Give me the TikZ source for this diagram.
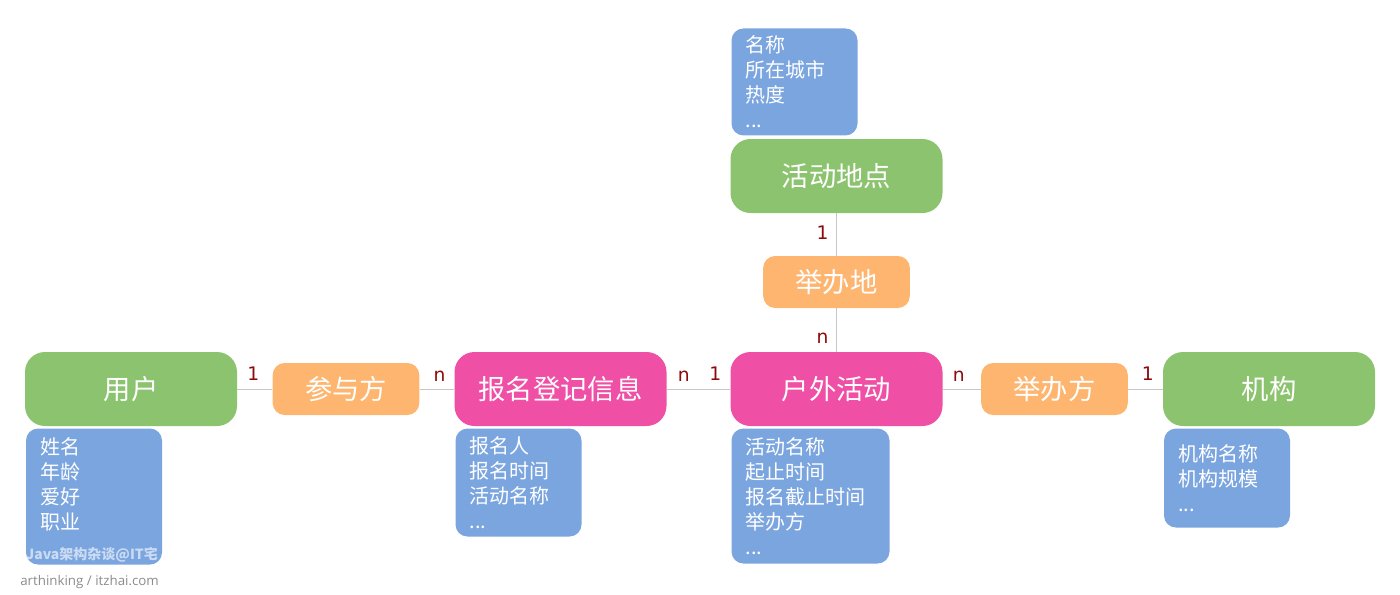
\documentclass[tikz,border=0pt]{standalone}
\usepackage{fontspec}
\setmainfont{Noto Sans CJK SC}
\newfontfamily\cardfont{DejaVu Sans}
\newfontfamily\footfont{Open Sans}
\usepackage{xcolor}
\usetikzlibrary{positioning}

\definecolor{entgreen}{HTML}{8CC36E}
\definecolor{entpink}{HTML}{EF4FA5}
\definecolor{relorange}{HTML}{FDB56F}
\definecolor{attrblue}{HTML}{7BA5DF}
\definecolor{carddark}{HTML}{8B0A0A}

\begin{document}
\begin{tikzpicture}[x=0.75pt, y=-0.75pt,
    entity/.style ={rectangle, rounded corners=15pt, fill=entgreen, text=white,
                    minimum width=159pt, minimum height=55.5pt, inner sep=0pt,
                    font=\fontsize{20.5}{24}\selectfont},
    event/.style  ={entity, fill=entpink},
    rel/.style    ={rectangle, rounded corners=9pt, fill=relorange, text=white,
                    minimum width=110pt, minimum height=39pt, inner sep=0pt,
                    font=\fontsize{20.5}{24}\selectfont},
    attrs/.style  ={rectangle, rounded corners=9pt, fill=attrblue, text=white,
                    anchor=north west, align=left, inner xsep=10.5pt, inner ysep=0pt,
                    font=\fontsize{15}{18.75}\selectfont},
    card/.style   ={font=\cardfont\fontsize{14}{16}\selectfont, text=carddark, inner sep=0pt},
    link/.style   ={draw=black!22, line width=0.75pt}
  ]
    % --- canvas (pixel grid of the reference, y down) ---
    \useasboundingbox (0,0) rectangle (1400,594);

    % --- main row ---
    \node[entity] (user)   at (131, 389)   {用户};
    \node[rel]    (join)   at (346, 389)   {参与方};
    \node[event]  (signup) at (560.5, 389) {报名登记信息};
    \node[event]  (act)    at (836.5, 389) {户外活动};
    \node[rel]    (host)   at (1054.5, 389) {举办方};
    \node[entity] (org)    at (1269, 389)  {机构};

    % --- column above the activity ---
    \node[entity] (place) at (836.5, 176) {活动地点};
    \node[rel]    (held)  at (836.5, 282) {举办地};

    % connectors
    \draw[link] (user) -- (join) -- (signup) -- (act) -- (host) -- (org);
    \draw[link] (place) -- (held) -- (act);

    % cardinalities
    \node[card] (c1) at ([shift={(16,-15)}]user.east)   {1};
    \node[card] (c2) at ([shift={(20,-13)}]join.east)   {n};
    \node[card] (c3) at ([shift={(17,-13)}]signup.east) {n};
    \node[card] (c4) at ([shift={(-15,-15)}]act.west)   {1};
    \node[card] (c5) at ([shift={(16,-13)}]act.east)    {n};
    \node[card] (c6) at ([shift={(-15,-15)}]org.west)   {1};
    \node[card] (c7) at ([shift={(-14,19)}]place.south) {1};
    \node[card] (c8) at ([shift={(-14,30)}]held.south)  {n};

    % --- attribute boxes ---
    \node[attrs, text width=81pt, minimum height=102pt] (userattr)
      at ([shift={(1,2)}]user.south west) {姓名\\年龄\\爱好\\职业\\~};
    \node[attrs, text width=73.5pt, minimum height=81pt] (signupattr)
      at ([shift={(1,2)}]signup.south west) {报名人\\报名时间\\活动名称\\...};
    \node[attrs, text width=97.5pt, minimum height=101.25pt] (actattr)
      at ([shift={(1,2)}]act.south west) {活动名称\\起止时间\\报名截止时间\\举办方\\...};
    \node[attrs, text width=73.5pt, minimum height=74.25pt] (orgattr)
      at ([shift={(1,2)}]org.south west) {机构名称\\机构规模\\...};
    \node[attrs, anchor=south west, text width=73.5pt, minimum height=80.25pt] (placeattr)
      at ([shift={(1,-3)}]place.north west) {名称\\所在城市\\热度\\...};

    % watermark + footer
    \node[text=white, opacity=0.6, font=\bfseries\fontsize{10.5}{12}\selectfont, inner sep=0pt]
      (mark) at (92, 555) {Java架构杂谈@IT宅};
    \node[text=black!45, font=\footfont\fontsize{10}{12}\selectfont, anchor=west, inner sep=0pt]
      (foot) at (20, 582) {arthinking / itzhai.com};
\end{tikzpicture}
\end{document}
